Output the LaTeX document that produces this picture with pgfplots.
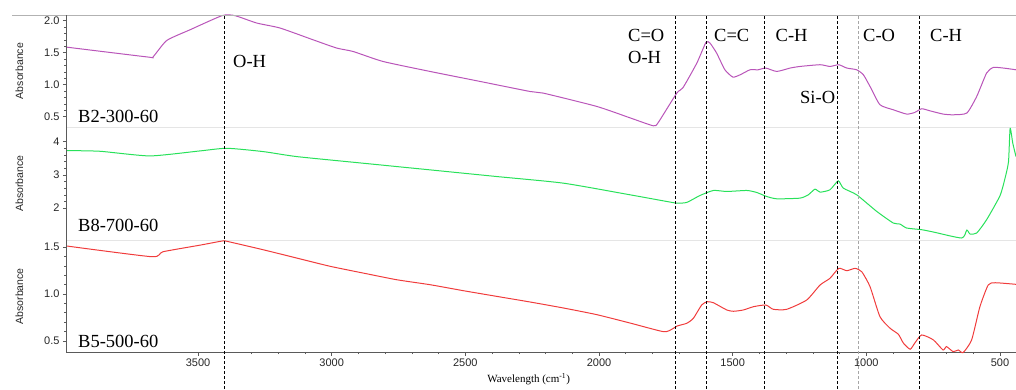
\documentclass[border=0pt]{standalone}
\usepackage{pgfplots}
\pgfplotsset{compat=1.18}
\usepackage{pgfplotstable}
\usepackage{fontspec}
\setmainfont{Liberation Serif}
\setsansfont{Liberation Sans}
\definecolor{cpur}{RGB}{185,85,185}
\definecolor{cgrn}{RGB}{40,225,90}
\definecolor{cred}{RGB}{240,60,60}
\definecolor{axgray}{RGB}{90,90,90}

\pgfplotstableread{
wn a
3994 1.589
3687 1.433
3668 1.4375
3617 1.692
3530 1.859
3410 2.08
3362 2.08
3280 1.964
3193 1.886
3070 1.703
2981 1.573
2920 1.52
2808 1.364
2632 1.208
2445 1.052
2258 0.895
2209 0.870
2008 0.661
1882 0.480
1797 0.359
1779 0.406
1709 0.870
1686 0.953
1634 1.339
1600 1.661
1585 1.652
1560 1.495
1529 1.234
1499 1.120
1472 1.156
1435 1.234
1405 1.234
1376 1.261
1335 1.208
1285 1.261
1248 1.286
1173 1.313
1136 1.286
1103 1.313
1073 1.261
1036 1.234
1011 1.156
986 0.973
949 0.688
899 0.609
849 0.542
819 0.567
793 0.625
763 0.594
713 0.542
675 0.531
624 0.558
587 0.817
550 1.183
525 1.270
487 1.261
440 1.234
}\tabB

\pgfplotstableread{
wn a
3991 3.73
3867 3.71
3680 3.57
3493 3.72
3392 3.80
3256 3.70
3131 3.55
2882 3.35
2632 3.15
2383 2.95
2133 2.75
1884 2.40
1747 2.20
1709 2.15
1672 2.17
1622 2.38
1572 2.53
1522 2.50
1447 2.53
1410 2.47
1373 2.35
1335 2.28
1248 2.30
1217 2.40
1192 2.57
1173 2.48
1136 2.55
1105 2.82
1086 2.60
1036 2.40
961 1.90
899 1.55
874 1.52
849 1.40
793 1.35
749 1.28
643 1.10
624 1.34
612 1.22
587 1.25
550 1.65
500 2.37
481 2.90
468 3.40
462 4.40
452 3.95
440 3.55
}\tabC

\pgfplotstableread{
wn a
3991 1.511
3673 1.397
3631 1.45
3493 1.52
3410 1.564
3392 1.561
3256 1.471
3131 1.383
3006 1.295
2882 1.223
2757 1.152
2632 1.099
2507 1.035
2383 0.975
2258 0.915
2133 0.851
2008 0.780
1884 0.691
1759 0.599
1728 0.624
1707 0.66
1672 0.688
1647 0.741
1616 0.883
1595 0.918
1572 0.907
1522 0.83
1497 0.816
1460 0.83
1422 0.865
1376 0.883
1348 0.837
1298 0.837
1223 0.936
1173 1.096
1136 1.167
1103 1.273
1073 1.248
1042 1.273
1017 1.237
986 1.078
949 0.759
911 0.635
880 0.571
861 0.476
836 0.412
819 0.476
793 0.564
749 0.511
713 0.404
700 0.44
675 0.386
656 0.404
638 0.376
606 0.511
575 0.865
544 1.096
518 1.12
440 1.103
}\tabD

\pgfplotsset{
  panel/.style={
    scale only axis, width=950pt, anchor=south west,
    x dir=reverse, xmin=440, xmax=3994,
    axis lines*=left,
    y axis line style={draw=none},
    x axis line style={draw=gray!20, line width=0.8pt},
    tick align=outside,
    major tick length=3pt, minor tick length=1.5pt,
    every tick/.style={axgray, line width=0.6pt},
    tick label style={font=\sffamily\fontsize{11}{12}\selectfont, color=black!85},
    /pgf/number format/assume math mode=true,
    /pgf/number format/fixed,
    ylabel={Absorbance},
    every axis y label/.style={at={(axis description cs:-0.049,0.5)}, rotate=90, anchor=center,
      font=\sffamily\fontsize{10.5}{12}\selectfont, color=black!85},
    clip=false,
  },
  spec/.style={line width=1pt, smooth, tension=0.35, no marks},
}

\begin{document}
\begin{tikzpicture}
\path[use as bounding box] (0pt,0pt) rectangle (1016pt,389pt);

% top panel
\begin{axis}[panel, at={(66pt,262pt)}, height=112pt,
  ymin=0.34, ymax=2.09, ytick={0.5,1.0,1.5,2.0}, minor y tick num=4,
  yticklabel style={/pgf/number format/precision=1, /pgf/number format/fixed zerofill},
  xtick=\empty]
\addplot[spec, color=cpur] table[x=wn, y=a] {\tabB};
\end{axis}

% middle panel
\begin{axis}[panel, at={(66pt,149pt)}, height=113pt,
  ymin=1.04, ymax=4.44, ytick={2,3,4}, minor y tick num=4,
  xtick=\empty]
\addplot[spec, color=cgrn] table[x=wn, y=a] {\tabC};
\end{axis}

% bottom panel
\begin{axis}[panel, at={(66pt,36.3pt)}, height=112.7pt,
  ymin=0.375, ymax=1.575, ytick={0.5,1.0,1.5}, minor y tick num=4,
  yticklabel style={/pgf/number format/precision=1, /pgf/number format/fixed zerofill},
  xtick={500,1000,1500,2000,2500,3000,3500}, minor x tick num=4,
  x axis line style={draw=axgray, line width=0.8pt},
  xticklabel style={/pgf/number format/1000 sep={}},
  xlabel={Wavelength (cm\textsuperscript{-1})},
  every axis x label/.style={at={(axis description cs:0.487,-0.262)}, anchor=base,
    font=\fontsize{11}{12}\selectfont}]
\addplot[spec, color=cred] table[x=wn, y=a] {\tabD};
\foreach \w in {3400,1715,1600,1380,1110,800}{
  \edef\tmp{\noexpand\draw[black, line width=0.7pt, dash pattern=on 3pt off 2pt] (axis cs:\w,-0.011) -- (axis cs:\w,3.972);}\tmp
}
\draw[gray!70, line width=1.1pt, dash pattern=on 3pt off 2pt] (axis cs:1030,-0.011) -- (axis cs:1030,3.972);
\end{axis}

\draw[gray!60, line width=0.8pt] (12pt,374pt) -- (1016pt,374pt);
\draw[axgray, line width=0.8pt] (66pt,36.3pt) -- (66pt,374pt);

\begin{scope}[every node/.style={inner sep=0pt, anchor=base west, font=\fontsize{18.5}{20}\selectfont}]
\node at (233pt,321pt) {O-H};
\node at (628pt,347.3pt) {C=O};
\node at (628pt,325.7pt) {O-H};
\node at (714pt,347.3pt) {C=C};
\node at (775.5pt,347.3pt) {C-H};
\node at (800pt,285.7pt) {Si-O};
\node at (863pt,347.3pt) {C-O};
\node at (930pt,347.3pt) {C-H};
\node at (78pt,266.3pt) {B2-300-60};
\node at (78pt,158pt) {B8-700-60};
\node at (78pt,41.7pt) {B5-500-60};
\end{scope}
\end{tikzpicture}
\end{document}
